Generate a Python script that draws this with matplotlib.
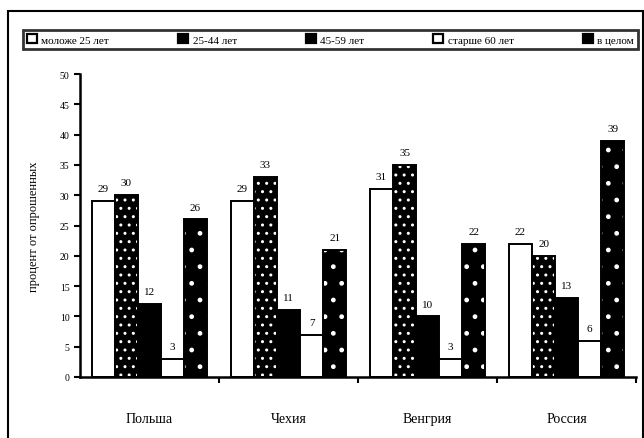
import matplotlib.pyplot as plt
import numpy as np
from matplotlib.patches import Rectangle

plt.rcParams['font.family'] = ['Liberation Serif', 'DejaVu Serif']

countries = ['Польша', 'Чехия', 'Венгрия', 'Россия']
series_names = ['моложе 25 лет', '25-44 лет', '45-59 лет', 'старше 60 лет', 'в целом']
young = [29, 29, 31, 22]
middle = [30, 33, 35, 20]
older = [12, 11, 10, 13]
senior = [3, 7, 3, 6]
overall = [26, 21, 22, 39]
y_ticks = [0, 5, 10, 15, 20, 25, 30, 35, 40, 45, 50]

values = [young, middle, older, senior, overall]
styles = [
    dict(facecolor='white', edgecolor='black'),
    dict(facecolor='black', edgecolor='white', hatch='..'),
    dict(facecolor='black', edgecolor='black'),
    dict(facecolor='white', edgecolor='black'),
    dict(facecolor='black', edgecolor='white', hatch='.'),
]
legend_faces = ['white', 'black', 'black', 'white', 'black']

fig = plt.figure(figsize=(6.44, 4.39), dpi=100)
ax = fig.add_axes([0.124, 0.139, 0.864, 0.69])

x = np.arange(len(countries))
w = 0.166
for i, (vals, st) in enumerate(zip(values, styles)):
    pos = x + (i - 2) * w
    ax.bar(pos, vals, w, linewidth=0, **st)
    ax.bar(pos, vals, w, fill=False, edgecolor='black', linewidth=1.4)
    for p, v in zip(pos, vals):
        ax.text(p, v + 1.3, str(v), ha='center', va='bottom', fontsize=8)

ax.set_xlim(-0.5, len(countries) - 0.5)
ax.set_ylim(0, 50)
ax.set_yticks(y_ticks)
ax.tick_params(axis='y', labelsize=7, width=1.5, length=4)
ax.set_xticks(x + 0.5, minor=True)
ax.set_xticks(x)
ax.set_xticklabels(countries, fontsize=10)
ax.tick_params(axis='x', which='major', length=0, pad=25)
ax.tick_params(axis='x', which='minor', length=4, width=1.5)
ax.spines['top'].set_visible(False)
ax.spines['right'].set_visible(False)
ax.spines['left'].set_linewidth(1.8)
ax.spines['bottom'].set_linewidth(1.8)
ax.set_ylabel('процент от опрошенных', fontsize=9, labelpad=14)

# legend strip
handles = [Rectangle((0, 0), 1, 1, facecolor=fc, edgecolor='black', linewidth=1.6)
           for fc in legend_faces]
leg = fig.legend(handles, series_names, loc='center', ncol=5,
                 bbox_to_anchor=(0.513, 0.908), fontsize=8, frameon=True,
                 fancybox=False, edgecolor='black', columnspacing=6.2,
                 handlelength=0.9, handleheight=0.9, handletextpad=0.4,
                 borderpad=0.4)
leg.get_frame().set_linewidth(2)

# outer frame of the original figure
fig.add_artist(Rectangle((0.012, -0.05), 0.986, 1.023, transform=fig.transFigure,
                         fill=False, edgecolor='black', linewidth=1.5))

fig.savefig('out.png', dpi=100)
